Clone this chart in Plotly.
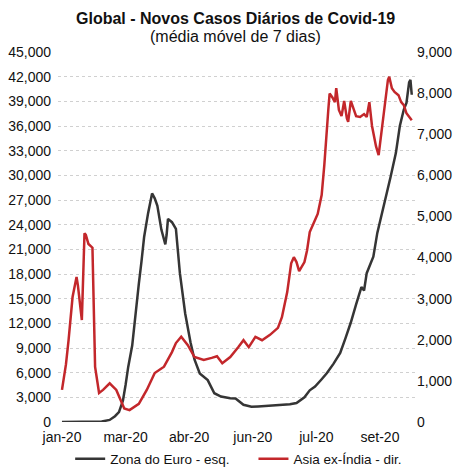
import pandas as pd
import plotly.graph_objects as go

# Daily series, indexed by days since 22 Jan 2020 (7-day moving averages)
START = "2020-01-22"

euro_days = [0, 10, 20, 30, 36, 40, 43, 46, 48, 50, 53, 56, 58, 60, 62, 65, 68, 70,
             72, 75, 78, 79, 80, 83, 86, 89, 93, 97, 100, 104, 110, 115, 120, 127,
             131, 137, 143, 148, 153, 160, 166, 172, 177, 183, 187, 191, 196, 200,
             205, 210, 214, 218, 222, 226, 228, 230, 233, 235, 238, 242, 245, 248,
             252, 255, 258, 260, 262, 263, 264]
euro_cases = [0, 20, 30, 60, 250, 700, 1200, 2600, 4500, 6700, 9300, 14200, 16800,
              19500, 22500, 25400, 27800, 27200, 26300, 23400, 21600, 22800, 24700,
              24300, 23500, 18100, 13200, 9700, 7600, 5900, 5100, 3500, 3100, 2900,
              2850, 2100, 1850, 1900, 1950, 2000, 2070, 2150, 2300, 3000, 3850, 4300,
              5200, 5950, 7100, 8400, 10200, 12100, 14300, 16400, 16000, 18100, 19300,
              20100, 23000, 25600, 27600, 29800, 32700, 36000, 38000, 38800, 41300,
              41600, 39800]

asia_days = [0, 3, 5, 8, 11, 12, 15, 17, 18, 20, 23, 24, 25, 28, 31, 36, 41, 47, 51,
             58, 64, 70, 77, 83, 86, 90, 95, 100, 107, 113, 117, 121, 127, 133, 137,
             141, 146, 151, 157, 163, 166, 170, 173, 175, 177, 179, 183, 185, 187,
             190, 193, 196, 198, 201, 202, 204, 206, 207, 209, 211, 213, 215, 216,
             218, 220, 222, 225, 228, 230, 232, 234, 237, 239, 241, 243, 246, 247,
             249, 251, 254, 256, 258, 260, 262, 264]
asia_cases = [780, 1400, 2000, 3040, 3530, 3330, 2480, 4590, 4550, 4330, 4240, 2970,
              1340, 705, 780, 940, 780, 330, 290, 440, 780, 1190, 1345, 1700, 1920,
              2075, 1870, 1580, 1510, 1560, 1600, 1430, 1580, 1820, 1990, 1820, 2070,
              1990, 2120, 2290, 2550, 3160, 3860, 4010, 3890, 3670, 3890, 4180, 4620,
              4840, 5060, 5520, 6250, 7590, 7990, 7900, 7780, 8120, 7590, 7440, 7810,
              7390, 7300, 7810, 7640, 7440, 7420, 7490, 7420, 7780, 7200, 6710, 6490,
              7030, 7420, 8320, 8400, 8120, 8030, 7950, 7780, 7710, 7510, 7420, 7340]

tick_days = [0, 48, 96, 144, 192, 240]
tick_labels = ["jan-20", "mar-20", "abr-20", "jun-20", "jul-20", "set-20"]


def to_dates(days):
    return pd.Timestamp(START) + pd.to_timedelta(days, unit="D")


FONT = "Liberation Sans, Arial, sans-serif"
INK = "#111111"

fig = go.Figure()
fig.add_trace(go.Scatter(
    x=to_dates(euro_days), y=euro_cases, mode="lines",
    name="Zona do Euro - esq.", yaxis="y", legend="legend",
    line=dict(color="#353535", width=2.5),
))
fig.add_trace(go.Scatter(
    x=to_dates(asia_days), y=asia_cases, mode="lines",
    name="Asia ex-Índia - dir.", yaxis="y2", legend="legend2",
    line=dict(color="#c3272b", width=2.5),
))

x_range = to_dates([-3, 267.2])

# Two-line heading: bold title plus subtitle
fig.add_annotation(
    text="<b>Global - Novos Casos Diários de Covid-19</b>",
    xref="paper", yref="paper", x=0.495, y=1.0, yshift=34,
    xanchor="center", yanchor="middle", showarrow=False,
    font=dict(family=FONT, size=16, color=INK),
)
fig.add_annotation(
    text="(média móvel de 7 dias)",
    xref="paper", yref="paper", x=0.495, y=1.0, yshift=16,
    xanchor="center", yanchor="middle", showarrow=False,
    font=dict(family=FONT, size=16, color=INK),
)

legend_style = dict(
    orientation="h", xanchor="left", y=-0.058, yanchor="top",
    font=dict(size=13.5), bgcolor="rgba(0,0,0,0)", itemwidth=30,
)

fig.update_layout(
    width=460, height=468,
    margin=dict(l=58, r=44, t=52, b=46, autoexpand=False),
    paper_bgcolor="white", plot_bgcolor="white",
    font=dict(family=FONT, size=14, color=INK),
    xaxis=dict(
        type="date", range=list(x_range),
        tickmode="array", tickvals=list(to_dates(tick_days)), ticktext=tick_labels,
        showgrid=False, zeroline=False, showline=False, ticks="",
        ticklabelstandoff=5, tickfont=dict(size=14),
    ),
    yaxis=dict(
        range=[0, 45000], dtick=3000, tickformat=",d",
        showgrid=True, gridcolor="#d0d0d0", griddash="dot", gridwidth=1,
        zeroline=False, showline=False, ticks="",
        ticklabelstandoff=6, tickfont=dict(size=14),
    ),
    yaxis2=dict(
        range=[0, 9000], dtick=1000, tickformat=",d",
        overlaying="y", side="right", showgrid=False, zeroline=False,
        showline=False, ticks="", tickfont=dict(size=14),
    ),
    legend=dict(x=0.034, **legend_style),
    legend2=dict(x=0.546, **legend_style),
    showlegend=True,
)

fig.write_html("out.html")
